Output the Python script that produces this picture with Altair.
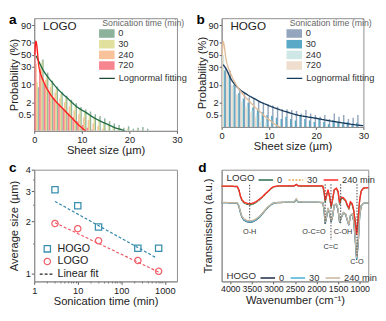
import altair as alt
import pandas as pd
from statistics import NormalDist

FONT = "Liberation Sans"
ND = NormalDist()
OFF = 3.29          # probit offset: 0.05 % sits at 0
YTOP = 4.87         # ~94 %

def pz(p):
    return ND.inv_cdf(p / 100.0) + OFF

# ---------------- panel a (LOGO) ----------------
bins_a = [0.5 + i for i in range(24)]
logo_0 = [8, 42, 22, 13, 8.5, 5.5, 3.8, 2.6, 1.8, 1.2, 0.9, 0.7, 0.5, 0.4, 0.3, 0.2, 0.15, 0.12, 0.08, 0.1, 0.07, 0.08, 0.09, 0.07]
logo_30 = [12, 38, 18, 11, 7, 4.5, 3, 2.1, 1.4, 1.0, 0.7, 0.5, 0.35, 0.25, 0.18, 0.12, 0.1, 0.08, 0.06, 0.07, 0, 0.06, 0, 0]
logo_240 = [35, 30, 14, 8, 5, 3, 2, 1.3, 0.8, 0.5, 0.35, 0.25, 0.15, 0.1, 0.07, 0, 0, 0, 0, 0, 0, 0, 0, 0]
logo_720 = [70, 27, 11, 5.5, 3, 1.7, 1.0, 0.6, 0.35, 0.2, 0.12, 0.08, 0.06, 0, 0, 0, 0, 0, 0, 0, 0, 0, 0, 0]
logo_fit0_x = [0.4, 0.7, 1, 2, 3, 4, 5, 6, 7, 8, 9, 10, 11, 12, 13, 14, 15, 16, 17, 18, 19]
logo_fit0_p = [48, 43, 38, 24, 16, 10.5, 6.8, 4.5, 3, 1.9, 1.2, 0.85, 0.6, 0.4, 0.28, 0.2, 0.15, 0.11, 0.08, 0.065, 0.05]
logo_fit720_x = [0.1, 0.35, 1, 1.5, 2, 3, 4, 5, 6, 7, 8, 9, 10, 10.8]
logo_fit720_p = [50, 72, 30, 18, 12, 5.7, 3, 1.7, 1, 0.55, 0.3, 0.15, 0.08, 0.05]

# ---------------- panel b (HOGO) ----------------
bins_b = [0.5 + i for i in range(29)]
hogo_0 = [30, 25, 12, 7, 5, 3.5, 3, 2.5, 2, 1.7, 1.5, 1.3, 1.0, 1.0, 0.9, 0.8, 0.6, 0.9, 0.6, 0.5, 0.4, 0.5, 0.3, 0.6, 0.4, 0.5, 0.3, 0.35, 0.5]
hogo_30 = [25, 18, 10, 5, 3, 2, 1.2, 0.9, 0.7, 0.5, 0.45, 0.35, 0.3, 0.4, 0.3, 0.25, 0.5, 0.3, 0.25, 0.2, 0.3, 0.2, 0.15, 0.25, 0.2, 0.15, 0.2, 0.15, 0.18]
hogo_240 = [50, 22, 9, 4.5, 2.5, 1.5, 0.9, 0.6, 0.35, 0.2, 0.12, 0.11, 0, 0, 0, 0, 0, 0, 0, 0, 0, 0, 0, 0, 0, 0, 0, 0, 0]
hogo_720 = [70, 25, 10, 4.5, 2.2, 1.2, 0.7, 0.4, 0.2, 0.12, 0.11, 0, 0, 0, 0, 0, 0, 0, 0, 0, 0, 0, 0, 0, 0, 0, 0, 0, 0]
hogo_fit0_x = [0.33, 1, 2, 3, 4, 5, 6, 7, 8, 10, 12, 14, 16, 18, 20, 22, 24, 26, 28, 30]
hogo_fit0_p = [34, 27, 15, 9.5, 6.5, 5, 3.8, 3, 2.3, 1.5, 1.0, 0.7, 0.5, 0.4, 0.33, 0.26, 0.21, 0.17, 0.14, 0.12]
hogo_fit720_x = [0.1, 0.3, 1, 2, 3, 4, 5, 6, 7, 8, 9, 10, 11, 12, 12.5]
hogo_fit720_p = [50, 72, 40, 20, 10.5, 6, 3.6, 2.2, 1.3, 0.8, 0.45, 0.28, 0.17, 0.11, 0.1]

# ---------------- panel c ----------------
sonication_min = [3, 10, 30, 240, 720]
hogo_avg = [3.06, 2.47, 1.86, 1.40, 1.40]
logo_avg = [1.95, 1.82, 1.55, 1.19, 1.03]
hogo_fit_t = [3, 650]
hogo_fit_s = [2.62, 1.23]
logo_fit_t = [3, 720]
logo_fit_s = [1.97, 1.02]

# ---------------- panel d (FTIR) ----------------
wavenumber = [4200, 3840, 3800, 3765, 3730, 3680, 3610, 3540, 3470, 3410, 3340, 3270, 3200, 3125, 3050,
              2995, 2910, 2700, 2520, 2470, 2425, 2270, 1985, 1855, 1825, 1800, 1770, 1735, 1700, 1660,
              1625, 1590, 1540, 1500, 1465, 1425, 1375, 1325, 1285, 1250, 1215, 1175, 1140, 1105, 1070,
              1035, 1000, 965, 915, 800]
logo_ir_0 = [85.2, 84.9, 81.6, 76.0, 72.4, 70.2, 69.0, 68.6, 69.2, 70.5, 72.6, 74.8, 77.6, 80.4, 83.2,
             84.6, 85.2, 85.4, 85.4, 86.9, 85.4, 85.4, 85.4, 85.2, 79.5, 71.0, 76.0, 81.5, 76.0, 66.0,
             73.5, 81.8, 83.2, 79.8, 68.8, 74.5, 74.0, 71.8, 67.5, 65.0, 70.5, 69.0, 63.5, 54.5, 43.5,
             57.5, 73.0, 80.8, 83.4, 84.0]
logo_ir_30 = [85.3, 85.0, 81.9, 76.4, 72.8, 70.6, 69.5, 69.1, 69.7, 70.9, 72.9, 75.0, 77.8, 80.5, 83.3,
              84.7, 85.3, 85.5, 85.5, 86.8, 85.5, 85.5, 85.5, 85.3, 80.2, 72.0, 76.4, 81.8, 76.4, 66.8,
              73.8, 82.0, 83.4, 80.3, 69.8, 75.0, 74.5, 72.2, 68.0, 65.5, 71.0, 69.5, 64.0, 54.0, 42.5,
              57.0, 72.8, 80.7, 83.5, 84.0]
logo_ir_240 = [85.4, 85.1, 82.1, 76.7, 73.2, 71.0, 69.9, 69.6, 70.2, 71.3, 73.2, 75.3, 78.0, 80.7, 83.5,
               84.8, 85.4, 85.6, 85.6, 86.7, 85.6, 85.6, 85.6, 85.4, 80.7, 72.6, 76.7, 82.1, 76.7, 67.2,
               74.0, 82.1, 83.5, 80.7, 70.5, 75.3, 74.8, 72.6, 68.5, 65.9, 71.3, 69.9, 64.5, 53.7, 41.5,
               56.4, 72.6, 80.7, 83.5, 84.0]
hogo_ir_0 = [70.5, 70.3, 67.3, 61.7, 57.6, 54.8, 53.4, 53.0, 53.5, 54.8, 56.9, 59.8, 63.2, 66.3, 68.8,
             70.0, 70.5, 70.8, 70.8, 73.2, 71.0, 70.8, 70.8, 70.5, 63.8, 51.5, 57.0, 65.4, 61.2, 53.4,
             58.6, 68.2, 69.1, 63.8, 52.8, 57.2, 61.4, 60.0, 54.5, 50.3, 58.7, 60.0, 54.4, 39.0, 19.5,
             33.5, 58.6, 67.6, 69.8, 70.4]
hogo_ir_30 = [70.6, 70.4, 67.5, 61.9, 57.8, 55.0, 53.6, 53.2, 53.7, 55.0, 57.1, 60.0, 63.4, 66.5, 68.9,
              70.1, 70.6, 70.9, 70.9, 73.6, 71.1, 70.9, 70.9, 70.6, 64.0, 51.8, 57.3, 65.6, 61.5, 53.8,
              58.8, 68.3, 69.2, 64.1, 53.2, 57.4, 61.6, 60.2, 54.7, 50.6, 58.9, 60.2, 54.7, 39.5, 20.2,
              34.0, 58.8, 67.7, 69.8, 70.5]
hogo_ir_240 = [70.7, 70.5, 67.8, 62.4, 58.5, 55.8, 54.5, 54.2, 54.7, 55.8, 57.7, 60.4, 63.7, 66.7, 69.1,
               70.2, 70.7, 71.0, 71.0, 74.0, 71.3, 71.0, 71.0, 70.7, 64.5, 52.3, 57.7, 65.9, 61.8, 54.2,
               59.1, 68.5, 69.4, 64.5, 53.7, 57.7, 61.8, 60.4, 55.0, 50.9, 59.1, 60.4, 55.0, 40.1, 21.1,
               34.6, 59.1, 67.8, 69.9, 70.5]
band_names = ["O-H", "O-C=O", "C=C", "C-OH", "C-O"]
band_wn = [3550, 1800, 1665, 1440, 1062]
band_top = [86.5, 87.0, 87.0, 87.0, 87.0]
band_bottom = [55.0, 52.0, 37.0, 52.0, 22.5]
band_label_wn = [3550, 2060, 1665, 1385, 1062]
band_label_v = [44.1, 44.1, 30.6, 44.1, 17.1]

# ---------------- shared helpers ----------------
prob_ticks = [0.5, 2, 10, 30, 50, 70, 90]
prob_tick_z = [round(pz(p), 5) for p in prob_ticks]
prob_label_expr = "".join(
    f"abs(datum.value-{z})<0.001?'{('%g' % p)}':" for z, p in zip(prob_tick_z, prob_ticks)) + "''"

RECT = "M-2,-1.1H2V1.1H-2Z"   # 16 x 9 px swatch at symbolSize 64
LINE = "M-2,0H2"              # 16 px line at symbolSize 64


def letter_layer(ch, dx, dy):
    return alt.Chart(pd.DataFrame({"t": [ch]})).mark_text(
        font=FONT, fontSize=14, fontWeight="bold", align="left", baseline="top", color="#000"
    ).encode(text="t:N", x=alt.value(dx), y=alt.value(dy))


def tag_layer(txt):
    return alt.Chart(pd.DataFrame({"t": [txt]})).mark_text(
        font=FONT, fontSize=12, align="left", baseline="middle", color="#222"
    ).encode(text="t:N", x=alt.value(9), y=alt.value(8))


def bar_table(bins, vals_list, names, lo_p):
    pos = {n: k for k, n in enumerate(reversed(names))}
    rows = []
    for name, vals in zip(names, vals_list):
        k = pos[name]
        for b, p in zip(bins, vals):
            if p > lo_p:
                x0 = b - 0.48 + 0.22 * k
                rows.append({"x0": x0, "x1": x0 + 0.3, "z": pz(p), "t": name})
    return pd.DataFrame(rows)


def dist_panel(letter, tag, bins, vals_list, colors, fit0, fit720, fitcols, linecol, ylo, width, height, leg_x):
    names = ["0", "30", "240", "720"]
    lo_p = ND.cdf(ylo - OFF) * 100
    xs = alt.Scale(domain=[0, 30], nice=False)
    ys = alt.Scale(domain=[ylo, YTOP], nice=False, zero=False)
    xax = alt.Axis(values=[0, 10, 20, 30], title="Sheet size (µm)", labelFlush=False)
    yax = alt.Axis(values=prob_tick_z, labelExpr=prob_label_expr, title="Probability (%)",
                   minExtent=14, maxExtent=14, titlePadding=1)
    bars = alt.Chart(bar_table(bins, vals_list, names, lo_p)).mark_bar(opacity=0.85, clip=True).encode(
        x=alt.X("x0:Q", scale=xs, axis=xax),
        x2="x1:Q",
        y=alt.Y("z:Q", scale=ys, axis=yax),
        y2=alt.datum(ylo),
        color=alt.Color("t:N", scale=alt.Scale(domain=names, range=colors),
                        legend=alt.Legend(title="Sonication time (min)", orient="none", legendX=leg_x + 4,
                                          legendY=1, symbolType=RECT, symbolSize=64, symbolStrokeWidth=0,
                                          symbolOpacity=0.85, labelFontSize=9.5, titleFontSize=9,
                                          titleFontWeight="normal", titleColor="#666", labelColor="#333",
                                          rowPadding=0, labelOffset=7, titlePadding=1, padding=0)),
    )
    sd = alt.StrokeDash("lab:N", scale=alt.Scale(domain=["Lognormal fitting"], range=[[1, 0]]),
                        legend=alt.Legend(title=None, orient="none", legendX=leg_x + 4, legendY=57,
                                          symbolType=LINE, symbolSize=64, symbolStrokeColor=linecol,
                                          symbolStrokeWidth=1.3, labelFontSize=9.5, labelColor="#333",
                                          labelOffset=7, padding=0))
    lines = []
    for (fx, fp), col in zip([fit0, fit720], fitcols):
        df = pd.DataFrame({"x": fx, "z": [pz(p) for p in fp], "lab": "Lognormal fitting"})
        lines.append(alt.Chart(df).mark_line(color=col, strokeWidth=1.4, clip=True, interpolate="monotone").encode(
            x=alt.X("x:Q", scale=xs, axis=xax),
            y=alt.Y("z:Q", scale=ys, axis=yax),
            strokeDash=sd,
        ))
    return alt.layer(bars, *lines, tag_layer(tag), letter_layer(letter, -26, -5)).properties(
        width=width, height=height)


pa = dist_panel("a", "LOGO", bins_a, [logo_0, logo_30, logo_240, logo_720],
                ["#78a58a", "#dcdc8c", "#f7b98a", "#f5707c"],
                (logo_fit0_x, logo_fit0_p), (logo_fit720_x, logo_fit720_p),
                ["#1d6b45", "#ff1a1a"], "#1d4a35", 0.0, 147, 116, 66)
pb = dist_panel("b", "HOGO", bins_b, [hogo_0, hogo_30, hogo_240, hogo_720],
                ["#8096b2", "#3d9abc", "#c8e4e0", "#ecd8c6"],
                (hogo_fit0_x, hogo_fit0_p), (hogo_fit720_x, hogo_fit720_p),
                ["#163a5c", "#e2bd98"], "#163a5c", 0.2, 146, 112, 66)

# ---------------- panel c ----------------
x_major = [1, 10, 100, 1000]
x_minor = [2, 3, 4, 5, 6, 7, 8, 9, 20, 30, 40, 50, 60, 70, 80, 90, 200, 300, 400, 500, 600, 700, 800, 900]
y_major = [1, 2, 3, 4]
y_minor = [1.5, 2.5, 3.5]
cxs = alt.Scale(type="log", domain=[1, 1900], nice=False)
cys = alt.Scale(type="log", domain=[0.9, 4], nice=False)
cxax = alt.Axis(values=x_major + x_minor, title="Sonication time (min)", labelFlush=False, labelOverlap=False,
                labelExpr="indexof([1,10,100,1000], datum.value) >= 0 ? '' + datum.value : ''",
                tickSize={"condition": {"test": "indexof([1,10,100,1000], datum.value) >= 0", "value": 3},
                          "value": 1.5})
cyax = alt.Axis(values=y_major + y_minor, title="Average size (µm)", labelOverlap=False,
                minExtent=14, maxExtent=14, titlePadding=1,
                labelExpr="indexof([1,2,3,4], datum.value) >= 0 ? '' + datum.value : ''",
                tickSize={"condition": {"test": "indexof([1,2,3,4], datum.value) >= 0", "value": 3},
                          "value": 1.5})
cdom = ["HOGO", "LOGO", "Linear fit"]
cleg = alt.Legend(title=None, orient="none", legendX=8, legendY=76, symbolSize=42, symbolStrokeWidth=1.3,
                  labelFontSize=11, labelColor="#222", rowPadding=0, labelOffset=5, padding=0)
pts = pd.DataFrame({"t": sonication_min * 2, "s": hogo_avg + logo_avg, "g": ["HOGO"] * 5 + ["LOGO"] * 5})
c_pts = alt.Chart(pts).mark_point(filled=False, size=42, strokeWidth=1.3, opacity=1).encode(
    x=alt.X("t:Q", scale=cxs, axis=cxax),
    y=alt.Y("s:Q", scale=cys, axis=cyax),
    color=alt.Color("g:N", scale=alt.Scale(domain=cdom, range=["#3a8fae", "#f2616c", "#222222"]), legend=cleg),
    shape=alt.Shape("g:N", scale=alt.Scale(domain=cdom, range=["square", "circle", "M-2.4,0H2.2"]), legend=cleg),
    strokeDash=alt.StrokeDash("g:N", scale=alt.Scale(domain=cdom, range=[[1, 0], [1, 0], [3, 2]]), legend=cleg),
)
c_fit_h = alt.Chart(pd.DataFrame({"t": hogo_fit_t, "s": hogo_fit_s})).mark_line(
    color="#2e86a8", strokeDash=[3, 2], strokeWidth=1.2).encode(
    x=alt.X("t:Q", scale=cxs, axis=cxax), y=alt.Y("s:Q", scale=cys, axis=cyax))
c_fit_l = alt.Chart(pd.DataFrame({"t": logo_fit_t, "s": logo_fit_s})).mark_line(
    color="#ee5562", strokeDash=[3, 2], strokeWidth=1.2).encode(
    x=alt.X("t:Q", scale=cxs, axis=cxax), y=alt.Y("s:Q", scale=cys, axis=cyax))
pc = alt.layer(c_fit_h, c_fit_l, c_pts, letter_layer("c", -26, -9)).properties(width=147, height=115)

# ---------------- panel d ----------------
dxs = alt.Scale(domain=[4200, 800], nice=False)
dys = alt.Scale(domain=[0, 100], nice=False)
dxax = alt.Axis(values=[4000, 3500, 3000, 2500, 2000, 1500, 1000], title="Wavenumber (cm⁻¹)", format="d",
                labelFontSize=9, labelOverlap=False, labelFlush=False)
dyax = alt.Axis(labels=False, ticks=False, title="Transmission (a.u.)", titlePadding=8, minExtent=0, maxExtent=0)
ser = ["0", "30", "240 min"]


def ir_layer(vals, title, colors, dashes, leg_y, field):
    rows = []
    for name, v in zip(ser, vals):
        for w, y in zip(wavenumber, v):
            rows.append({"w": w, "v": y, field: name})
    leg = alt.Legend(title=title, orient="none", legendX=5, legendY=leg_y, direction="horizontal",
                     titleOrient="left", symbolType="stroke", symbolSize=225, symbolStrokeWidth=1.5,
                     labelFontSize=9.5, labelColor="#333", titleFontSize=10, titleFontWeight="normal",
                     titleColor="#333", columnPadding=3, labelOffset=3, titlePadding=3, padding=0)
    return alt.Chart(pd.DataFrame(rows)).mark_line(strokeWidth=1.3).encode(
        x=alt.X("w:Q", scale=dxs, axis=dxax),
        y=alt.Y("v:Q", scale=dys, axis=dyax),
        color=alt.Color(f"{field}:N", scale=alt.Scale(domain=ser, range=colors), legend=leg),
        strokeDash=alt.StrokeDash(f"{field}:N", scale=alt.Scale(domain=ser, range=dashes), legend=leg),
    )


ir_logo = ir_layer([logo_ir_0, logo_ir_30, logo_ir_240], "LOGO", ["#2b6e4f", "#f0a848", "#ff2a2a"],
                   [[1, 0], [2, 1.5], [1, 0]], 2, "ls")
ir_hogo = ir_layer([hogo_ir_0, hogo_ir_30, hogo_ir_240], "HOGO", ["#1d2d45", "#49b2d3", "#c9b59c"],
                   [[1, 0], [1, 0], [1, 0]], 103, "hs")
bands = pd.DataFrame({"w": band_wn, "v1": band_top, "v2": band_bottom,
                      "lw": band_label_wn, "lv": band_label_v, "n": band_names})
band_rules = alt.Chart(bands).mark_rule(color="#444", strokeDash=[1.5, 1.5], strokeWidth=1).encode(
    x=alt.X("w:Q", scale=dxs, axis=dxax), y=alt.Y("v1:Q", scale=dys, axis=dyax), y2="v2:Q")
band_text = alt.Chart(bands).mark_text(font=FONT, fontSize=7.5, color="#333", baseline="middle").encode(
    x=alt.X("lw:Q", scale=dxs, axis=dxax), y=alt.Y("lv:Q", scale=dys, axis=dyax), text="n:N")
pdd = alt.layer(ir_hogo, ir_logo, band_rules, band_text, letter_layer("d", -24, -9)).resolve_scale(
    color="independent", strokeDash="independent").properties(width=151, height=115)

chart = alt.concat(pa, pb, pc, pdd, columns=2, spacing={"row": 40, "column": 46}, bounds="flush",
                   align="each").resolve_scale(
    color="independent", shape="independent", strokeDash="independent"
).properties(padding={"left": 0, "top": 0, "right": 0, "bottom": 0}).configure(font=FONT).configure_axis(
    labelFont=FONT, titleFont=FONT, labelFontSize=9.5, titleFontSize=11.5, titleFontWeight="normal",
    labelColor="#222", titleColor="#222", tickColor="#555", domainColor="#8c8c8c", grid=False,
    tickSize=2.5, labelPadding=1, titlePadding=1
).configure_view(stroke="#8c8c8c", strokeWidth=1).configure_legend(labelFont=FONT, titleFont=FONT)

chart.save("out.html", embed_options={"renderer": "svg", "actions": False})
